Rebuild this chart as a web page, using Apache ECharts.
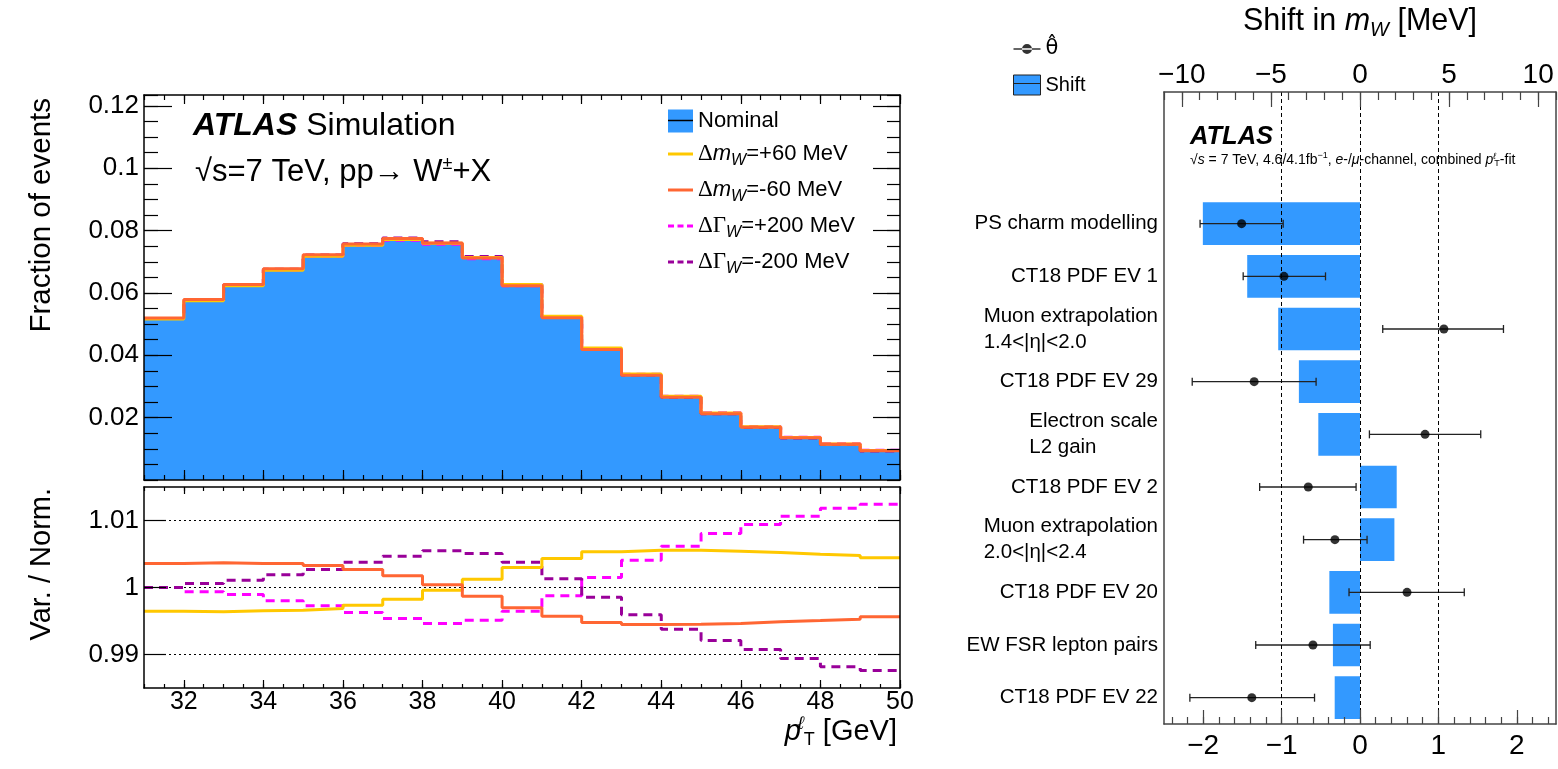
<!DOCTYPE html>
<html>
<head>
<meta charset="utf-8">
<script src="https://cdn.jsdelivr.net/npm/echarts@6/dist/echarts.min.js"></script>
<style>
  html, body { margin: 0; padding: 0; background: #fff; }
  #main { width: 1558px; height: 769px; }
</style>
</head>
<body>
<div id="main"></div>
<script>
// ---- left panel: pT(lepton) template, bins 31..50 GeV
var binEdges = [31, 32, 33, 34, 35, 36, 37, 38, 39, 40, 41, 42, 43, 44, 45, 46, 47, 48, 49, 50];
var nominal = [0.0518, 0.0577, 0.0625, 0.0675, 0.0720, 0.0755, 0.0773, 0.0760, 0.0713, 0.0625,
               0.0523, 0.0421, 0.0338, 0.0267, 0.0214, 0.0170, 0.0136, 0.0115, 0.0094];
// variation / nominal
var ratioMwUp = [0.99647, 0.99637, 0.99652, 0.99662, 0.99687, 0.99736, 0.99826, 0.99960, 1.00124, 1.00299,
                 1.00433, 1.00532, 1.00557, 1.00557, 1.00542, 1.00522, 1.00498, 1.00478, 1.00443];
var ratioMwDown = [1.00358, 1.00368, 1.00358, 1.00358, 1.00328, 1.00269, 1.00174, 1.00040, 0.99871, 0.99697,
                   0.99572, 0.99478, 0.99448, 0.99453, 0.99463, 0.99488, 0.99507, 0.99527, 0.99562];
var ratioGwUp = [1.00000, 0.99935, 0.99896, 0.99801, 0.99726, 0.99627, 0.99537, 0.99463, 0.99512, 0.99647,
                 0.99876, 1.00149, 1.00408, 1.00617, 1.00806, 1.00940, 1.01065, 1.01184, 1.01244];
var ratioGwDown = [1.00000, 1.00060, 1.00110, 1.00189, 1.00269, 1.00378, 1.00468, 1.00547, 1.00507, 1.00378,
                   1.00129, 0.99856, 0.99592, 0.99378, 0.99209, 0.99075, 0.98940, 0.98816, 0.98761];
var fracTicks = [0.02, 0.04, 0.06, 0.08, 0.1, 0.12];
var ratioTicks = [0.99, 1, 1.01];
var ptTicks = [32, 34, 36, 38, 40, 42, 44, 46, 48, 50];

// ---- right panel: ranking of nuisance parameters
var nuisanceNames = ['PS charm modelling', 'CT18 PDF EV 1', 'Muon extrapolation\n1.4<|η|<2.0', 'CT18 PDF EV 29',
                     'Electron scale\nL2 gain', 'CT18 PDF EV 2', 'Muon extrapolation\n2.0<|η|<2.4', 'CT18 PDF EV 20',
                     'EW FSR lepton pairs', 'CT18 PDF EV 22'];
var shiftMeV = [-8.82, -6.33, -4.59, -3.43, -2.34, 2.06, 1.93, -1.72, -1.52, -1.42];
var thetaHat = [-1.51, -0.97, 1.07, -1.35, 0.83, -0.66, -0.32, 0.60, -0.60, -1.38];
var thetaLow = [-2.04, -1.49, 0.29, -2.14, 0.12, -1.28, -0.72, -0.14, -1.33, -2.17];
var thetaHigh = [-0.98, -0.44, 1.83, -0.56, 1.54, -0.05, 0.09, 1.33, 0.13, -0.58];
var thetaTicks = [-2, -1, 0, 1, 2];
var thetaRefLines = [-1, 0, 1];
var shiftTicks = [-10, -5, 0, 5, 10];

var SANS = 'Liberation Sans';
var SERIF = 'Liberation Serif';
var BLUE = '#3399ff';

var variations = [
    {name: 'gwUp', ratio: ratioGwUp, color: '#ff00ff', dash: [9, 6]},
    {name: 'gwDown', ratio: ratioGwDown, color: '#990099', dash: [9, 6]},
    {name: 'mwUp', ratio: ratioMwUp, color: '#ffc800', dash: 'solid'},
    {name: 'mwDown', ratio: ratioMwDown, color: '#ff6633', dash: 'solid'}
];

function stepData(vals) {
    var pts = vals.map(function (v, i) { return [binEdges[i], v]; });
    pts.push([binEdges[binEdges.length - 1], vals[vals.length - 1]]);
    return pts;
}

function minusFmt(v) {
    return v < 0 ? '\u2212' + (-v) : String(v);
}

// one edge of a ROOT style frame: ticks inside, optional labels
function edge(o) {
    var col = o.color || '#000';
    var a = {
        type: 'value', gridIndex: o.grid, position: o.pos, min: o.min, max: o.max, z: 10,
        axisLine: {show: !!o.line, onZero: false, lineStyle: {color: col, width: 1.5}},
        axisTick: {show: true, inside: true, length: o.len, lineStyle: {color: col, width: 1.2}},
        axisLabel: {show: false},
        splitLine: {show: false}
    };
    if (o.interval) a.interval = o.interval;
    if (o.ticks) a.axisTick.customValues = o.ticks;
    if (o.labels) {
        a.axisLabel = {show: true, customValues: o.labels, formatter: o.fmt, fontSize: o.fs,
                       fontFamily: SANS, color: '#000', margin: o.margin};
    }
    return a;
}

var thetaMinor = [];
for (var t = -24; t <= 24; t += 2) thetaMinor.push(t / 10);

var fracFmt = function (v) { return String(Math.round(v * 1000) / 1000); };
var ratioFmt = function (v) { return String(Math.round(v * 1000) / 1000); };

var xAxes = [
    // grid 0 (top-left)
    edge({grid: 0, pos: 'bottom', min: 31, max: 50, interval: 0.5, len: 5, line: true}),
    edge({grid: 0, pos: 'bottom', min: 31, max: 50, ticks: ptTicks, len: 10}),
    edge({grid: 0, pos: 'top', min: 31, max: 50, interval: 0.5, len: 5, line: true}),
    edge({grid: 0, pos: 'top', min: 31, max: 50, ticks: ptTicks, len: 9}),
    // grid 1 (ratio)
    edge({grid: 1, pos: 'bottom', min: 31, max: 50, interval: 0.5, len: 4, line: true}),
    edge({grid: 1, pos: 'bottom', min: 31, max: 50, ticks: ptTicks, len: 8, labels: ptTicks,
          fmt: function (v) { return String(v); }, fs: 25, margin: 2}),
    edge({grid: 1, pos: 'top', min: 31, max: 50, interval: 0.5, len: 4, line: true}),
    edge({grid: 1, pos: 'top', min: 31, max: 50, ticks: ptTicks, len: 7}),
    // grid 2 (ranking)
    edge({grid: 2, pos: 'bottom', min: -2.5, max: 2.5, ticks: thetaMinor, len: 7, line: true, color: '#444'}),
    edge({grid: 2, pos: 'bottom', min: -2.5, max: 2.5, ticks: thetaTicks, len: 14, color: '#444',
          labels: thetaTicks, fmt: minusFmt, fs: 28, margin: 8}),
    edge({grid: 2, pos: 'top', min: -11, max: 11, interval: 1, len: 8, line: true, color: '#444'}),
    edge({grid: 2, pos: 'top', min: -11, max: 11, ticks: shiftTicks, len: 15, color: '#444',
          labels: shiftTicks, fmt: minusFmt, fs: 28, margin: 3})
];

var yAxes = [
    edge({grid: 0, pos: 'left', min: 0, max: 0.1235, interval: 0.005, len: 14, line: true}),
    edge({grid: 0, pos: 'left', min: 0, max: 0.1235, ticks: fracTicks, len: 28, labels: fracTicks,
          fmt: fracFmt, fs: 26, margin: 5}),
    edge({grid: 0, pos: 'right', min: 0, max: 0.1235, interval: 0.005, len: 13, line: true}),
    edge({grid: 0, pos: 'right', min: 0, max: 0.1235, ticks: fracTicks, len: 27}),
    edge({grid: 1, pos: 'left', min: 0.985, max: 1.015, ticks: ratioTicks, len: 22, line: true,
          labels: ratioTicks, fmt: ratioFmt, fs: 26, margin: 5}),
    edge({grid: 1, pos: 'right', min: 0.985, max: 1.015, ticks: ratioTicks, len: 22, line: true}),
    {
        type: 'category', gridIndex: 2, position: 'left', inverse: true, z: 10,
        data: ['', ''].concat(nuisanceNames),
        axisLine: {show: true, onZero: false, lineStyle: {color: '#444', width: 1.5}},
        axisTick: {show: false},
        splitLine: {show: false},
        axisLabel: {
            interval: 0, margin: 6, fontSize: 20.5, fontFamily: SANS, color: '#000',
            formatter: function (v) {
                if (v.indexOf('\n') < 0) return v;
                return v.split('\n').map(function (s) { return '{l|' + s + '}'; }).join('\n');
            },
            rich: {l: {align: 'left', fontSize: 20.5, lineHeight: 26, fontFamily: SANS, color: '#000'}}
        }
    },
    {
        type: 'value', gridIndex: 2, position: 'right', min: 0, max: 1, z: 10,
        axisLine: {show: true, onZero: false, lineStyle: {color: '#444', width: 1.5}},
        axisTick: {show: false}, axisLabel: {show: false}, splitLine: {show: false}
    }
];

var series = [{
    name: 'Nominal', type: 'line', step: 'end', xAxisIndex: 0, yAxisIndex: 0,
    data: stepData(nominal), symbol: 'none', z: 2,
    itemStyle: {color: BLUE},
    lineStyle: {color: '#000', width: 1},
    areaStyle: {color: BLUE, opacity: 1, origin: 'start'}
}];
variations.forEach(function (vr, k) {
    var scaledVals = nominal.map(function (v, i) { return v * vr.ratio[i]; });
    series.push({
        name: vr.name, type: 'line', step: 'end', xAxisIndex: 0, yAxisIndex: 0,
        data: stepData(scaledVals), symbol: 'none', z: 3 + k,
        itemStyle: {color: vr.color},
        lineStyle: {color: vr.color, width: 3, type: vr.dash}
    });
    var s = {
        name: vr.name, type: 'line', step: 'end', xAxisIndex: 4, yAxisIndex: 4,
        data: stepData(vr.ratio), symbol: 'none', z: 3 + k,
        itemStyle: {color: vr.color},
        lineStyle: {color: vr.color, width: 3, type: vr.dash}
    };
    if (k === 0) {
        s.markLine = {
            silent: true, symbol: 'none', z: 1, animation: false,
            label: {show: false},
            lineStyle: {color: '#000', width: 1.2, type: [2, 3]},
            data: ratioTicks.map(function (v) { return {yAxis: v}; })
        };
    }
    series.push(s);
});

series.push({
    name: 'Shift', type: 'bar', xAxisIndex: 10, yAxisIndex: 6, barWidth: '81%', z: 2,
    itemStyle: {color: BLUE},
    data: shiftMeV.map(function (v, i) { return [v, i + 2]; })
});
series.push({
    name: 'thetaErr', type: 'custom', xAxisIndex: 8, yAxisIndex: 6, z: 4,
    encode: {x: [0, 1], y: 2},
    data: thetaLow.map(function (v, i) { return [v, thetaHigh[i], i + 2]; }),
    renderItem: function (params, api) {
        var c = api.value(2);
        var p1 = api.coord([api.value(0), c]);
        var p2 = api.coord([api.value(1), c]);
        var h = 4;
        var st = {stroke: '#222', lineWidth: 1.3};
        return {type: 'group', children: [
            {type: 'line', shape: {x1: p1[0], y1: p1[1], x2: p2[0], y2: p2[1]}, style: st},
            {type: 'line', shape: {x1: p1[0], y1: p1[1] - h, x2: p1[0], y2: p1[1] + h}, style: st},
            {type: 'line', shape: {x1: p2[0], y1: p2[1] - h, x2: p2[0], y2: p2[1] + h}, style: st}
        ]};
    }
});
series.push({
    name: 'theta', type: 'scatter', xAxisIndex: 8, yAxisIndex: 6, z: 5,
    symbol: 'circle', symbolSize: 9, itemStyle: {color: '#000'},
    data: thetaHat.map(function (v, i) { return [v, i + 2]; }),
    markLine: {
        silent: true, symbol: 'none', animation: false,
        label: {show: false},
        lineStyle: {color: '#000', width: 1, type: [4, 3]},
        data: thetaRefLines.map(function (v) { return {xAxis: v}; })
    }
});

var legRich = {
    n: {fontSize: 22, fontFamily: SANS, lineHeight: 29, color: '#000'},
    g: {fontSize: 23, fontFamily: SERIF, lineHeight: 29, color: '#000'},
    i: {fontSize: 22, fontFamily: SANS, fontStyle: 'italic', lineHeight: 29, color: '#000'},
    s: {fontSize: 16, fontFamily: SANS, fontStyle: 'italic', lineHeight: 16, padding: [13, 0, 0, 0], color: '#000'}
};
var legText = {
    Nominal: '{n|Nominal}',
    mwUp: '{g|Δ}{i|m}{s|W}{n|=+60 MeV}',
    mwDown: '{g|Δ}{i|m}{s|W}{n|=-60 MeV}',
    gwUp: '{g|ΔΓ}{s|W}{n|=+200 MeV}',
    gwDown: '{g|ΔΓ}{s|W}{n|=-200 MeV}'
};
var boxIcon = 'path://M0,0h25v23h-25z';
var solidIcon = 'path://M0,0h25v3h-25z';
var dashIcon = 'path://M0,0h6v3h-6zM9.5,0h6v3h-6zM19,0h6v3h-6z';
var colorOf = {};
variations.forEach(function (vr) { colorOf[vr.name] = vr.color; });

var option = {
    animation: false,
    backgroundColor: '#fff',
    grid: [
        {left: 144, top: 95, width: 756, height: 385},
        {left: 144, top: 487, width: 756, height: 201},
        {left: 1164, top: 92, width: 392, height: 632}
    ],
    xAxis: xAxes,
    yAxis: yAxes,
    legend: [{
        left: 668, top: 109.5, padding: 0, orient: 'vertical', itemWidth: 25, itemHeight: 23, itemGap: 7,
        symbolKeepAspect: true, selectedMode: false,
        data: [
            {name: 'Nominal', icon: boxIcon, itemStyle: {color: BLUE, borderWidth: 0}},
            {name: 'mwUp', icon: solidIcon, itemStyle: {color: colorOf.mwUp, borderWidth: 0}},
            {name: 'mwDown', icon: solidIcon, itemStyle: {color: colorOf.mwDown, borderWidth: 0}},
            {name: 'gwUp', icon: dashIcon, itemStyle: {color: colorOf.gwUp, borderWidth: 0}},
            {name: 'gwDown', icon: dashIcon, itemStyle: {color: colorOf.gwDown, borderWidth: 0}}
        ],
        formatter: function (n) { return legText[n]; },
        textStyle: {fontSize: 22, fontFamily: SANS, color: '#000', rich: legRich}
    }, {
        left: 1013, top: 38.5, padding: 0, orient: 'vertical', itemWidth: 27, itemHeight: 20, itemGap: 15,
        symbolKeepAspect: true, selectedMode: false,
        data: [
            {name: 'theta', icon: 'path://M0,4.3h27v1.4h-27zM8.5,5a5,5 0 1,0 10,0a5,5 0 1,0 -10,0z',
             itemStyle: {color: '#000', borderWidth: 0}},
            {name: 'Shift', icon: 'path://M0,0h27v20h-27z', itemStyle: {color: BLUE, borderColor: '#222', borderWidth: 1}}
        ],
        formatter: function (n) { return n === 'theta' ? '{t|θ̂}' : '{n|Shift}'; },
        textStyle: {fontSize: 20, fontFamily: SANS, color: '#000',
            rich: {t: {fontSize: 21, fontFamily: 'DejaVu Sans', lineHeight: 20, color: '#000'},
                   n: {fontSize: 20, fontFamily: SANS, lineHeight: 20, color: '#000'}}}
    }],
    graphic: [
        {type: 'line', z: 100, shape: {x1: 668, y1: 120.5, x2: 693, y2: 120.5}, style: {stroke: '#000', lineWidth: 1.5}},
        {type: 'line', z: 100, shape: {x1: 1013, y1: 83.5, x2: 1040, y2: 83.5}, style: {stroke: '#222', lineWidth: 1}},
        {type: 'text', x: 193, y: 126, z: 100, style: {
            text: '{b|ATLAS}{n| Simulation}', verticalAlign: 'middle',
            rich: {b: {fontSize: 32, fontFamily: SANS, fontWeight: 'bold', fontStyle: 'italic', fill: '#000'},
                   n: {fontSize: 32, fontFamily: SANS, fill: '#000'}}}},
        {type: 'text', x: 195, y: 172, z: 100, style: {
            text: '{n|√s=7 TeV, pp→ W}{p|±}{n|+X}', verticalAlign: 'middle',
            rich: {n: {fontSize: 31, fontFamily: SANS, lineHeight: 34, fill: '#000'},
                   p: {fontSize: 18, fontFamily: SANS, lineHeight: 18, padding: [0, 0, 16, 0], fill: '#000'}}}},
        {type: 'text', x: 42, y: 98, rotation: Math.PI / 2, z: 100, style: {
            text: 'Fraction of events', fontSize: 29.5, fontFamily: SANS, fill: '#000',
            align: 'right', verticalAlign: 'middle'}},
        {type: 'text', x: 42, y: 488, rotation: Math.PI / 2, z: 100, style: {
            text: 'Var. / Norm.', fontSize: 29, fontFamily: SANS, fill: '#000',
            align: 'right', verticalAlign: 'middle'}},
        {type: 'text', x: 897, y: 732, z: 100, style: {
            text: '{i|p}{u|ℓ}{d|T}{n| [GeV]}', align: 'right', verticalAlign: 'middle',
            rich: {i: {fontSize: 29, fontFamily: SANS, fontStyle: 'italic', lineHeight: 34, fill: '#000'},
                   n: {fontSize: 29, fontFamily: SANS, lineHeight: 34, fill: '#000'},
                   u: {fontSize: 18, fontFamily: SANS, fontStyle: 'italic', width: 3, lineHeight: 18, padding: [0, 0, 16, 0], fill: '#000'},
                   d: {fontSize: 18, fontFamily: SANS, lineHeight: 18, padding: [16, 0, 0, 0], fill: '#000'}}}},
        {type: 'text', x: 1360, y: 22, z: 100, style: {
            text: '{n|Shift in }{i|m}{s|W}{n| [MeV]}', align: 'center', verticalAlign: 'middle',
            rich: {n: {fontSize: 30.5, fontFamily: SANS, lineHeight: 36, fill: '#000'},
                   i: {fontSize: 30.5, fontFamily: SANS, fontStyle: 'italic', lineHeight: 36, fill: '#000'},
                   s: {fontSize: 20, fontFamily: SANS, fontStyle: 'italic', lineHeight: 20, padding: [16, 0, 0, 0], fill: '#000'}}}},
        {type: 'text', x: 1190, y: 137, z: 100, style: {
            text: 'ATLAS', fontSize: 25.5, fontFamily: SANS, fontWeight: 'bold', fontStyle: 'italic',
            fill: '#000', verticalAlign: 'middle'}},
        {type: 'text', x: 1190, y: 160, z: 100, style: {
            text: '{n|√}{i|s}{n| = 7 TeV, 4.6/4.1fb}{p|−1}{n|, }{i|e}{n|-/}{i|μ}{n|-channel, combined }{i|p}{u|ℓ}{d|T}{n|-fit}',
            verticalAlign: 'middle',
            rich: {n: {fontSize: 14, fontFamily: SANS, lineHeight: 18, fill: '#000'},
                   i: {fontSize: 14, fontFamily: SANS, fontStyle: 'italic', lineHeight: 18, fill: '#000'},
                   p: {fontSize: 9, fontFamily: SANS, lineHeight: 9, padding: [0, 0, 8, 0], fill: '#000'},
                   u: {fontSize: 9, fontFamily: SANS, fontStyle: 'italic', width: 1, lineHeight: 9, padding: [0, 0, 8, 0], fill: '#000'},
                   d: {fontSize: 9, fontFamily: SANS, lineHeight: 9, padding: [8, 0, 0, 0], fill: '#000'}}}}
    ],
    series: series
};

var myChart = echarts.init(document.getElementById('main'));
myChart.setOption(option);
</script>
</body>
</html>
